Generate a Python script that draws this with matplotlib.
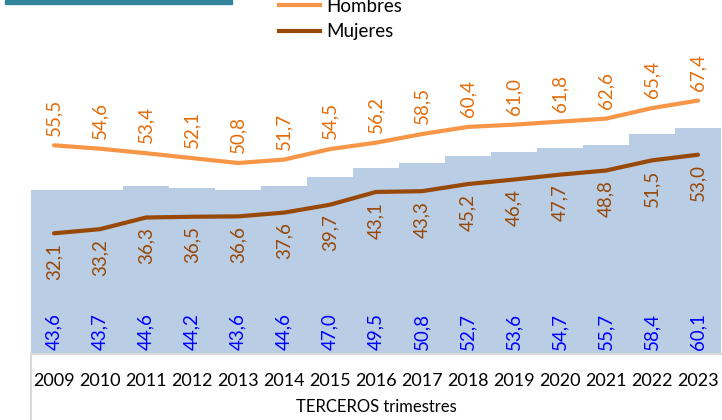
import matplotlib
matplotlib.use("Agg")
import matplotlib.pyplot as plt
from matplotlib.lines import Line2D
from matplotlib.patches import Rectangle

plt.rcParams['font.family'] = ['Lato', 'DejaVu Sans']

years = ['2009', '2010', '2011', '2012', '2013', '2014', '2015', '2016',
         '2017', '2018', '2019', '2020', '2021', '2022', '2023']
total = [43.6, 43.7, 44.6, 44.2, 43.6, 44.6, 47.0, 49.5,
         50.8, 52.7, 53.6, 54.7, 55.7, 58.4, 60.1]
hombres = [55.5, 54.6, 53.4, 52.1, 50.8, 51.7, 54.5, 56.2,
           58.5, 60.4, 61.0, 61.8, 62.6, 65.4, 67.4]
mujeres = [32.1, 33.2, 36.3, 36.5, 36.6, 37.6, 39.7, 43.1,
           43.3, 45.2, 46.4, 47.7, 48.8, 51.5, 53.0]

def fmt(v):
    return f"{v:.1f}".replace('.', ',')

fig = plt.figure(figsize=(7.22, 4.2), dpi=100)
ax = fig.add_axes([31 / 722, 66 / 420, 690 / 722, 338.4 / 420])

x = list(range(len(years)))
ax.bar(x, total, width=1.0, color='#b9cde5', zorder=1)
ax.plot(x, hombres, color='#f79646', lw=3, solid_capstyle='round', zorder=3)
ax.plot(x, mujeres, color='#984807', lw=3, solid_capstyle='round', zorder=3)

for i in x:
    ax.annotate(fmt(hombres[i]), (i, hombres[i]), xytext=(0, 7), textcoords='offset points',
                rotation=90, ha='center', va='bottom', color='#e46c0a', fontsize=13.5)
    ax.annotate(fmt(mujeres[i]), (i, mujeres[i]), xytext=(0, -7), textcoords='offset points',
                rotation=90, ha='center', va='top', color='#984807', fontsize=13.5)
    ax.annotate(fmt(total[i]), (i, 0), xytext=(0, 3), textcoords='offset points',
                rotation=90, ha='center', va='bottom', color='#0000ff', fontsize=13.5)

ax.set_xlim(-0.5, len(years) - 0.5)
ax.set_ylim(0, 90)
ax.set_yticks([])
ax.set_xticks(x)
ax.set_xticklabels(years, fontsize=13)
ax.tick_params(axis='x', length=0, pad=14)
ax.set_xlabel('TERCEROS trimestres', fontsize=12, labelpad=7)
for s in ['top', 'right', 'left']:
    ax.spines[s].set_visible(False)
ax.spines['bottom'].set_color('#d9d9d9')
ax.spines['bottom'].set_linewidth(1.5)

# frame line at the left below the plot
fig.add_artist(Line2D([31 / 722, 31 / 722], [0, 66 / 420], color='#d9d9d9', lw=1.5))
# title band at the top left
fig.add_artist(Rectangle((5 / 722, 416 / 420), 227 / 722, 4 / 420, color='#31849b'))

handles = [Line2D([0], [0], color='#f79646', lw=3),
           Line2D([0], [0], color='#984807', lw=3)]
fig.legend(handles, ['Hombres', 'Mujeres'], loc='upper left',
           bbox_to_anchor=(262 / 722, 1.045), frameon=False, fontsize=13.5,
           handlelength=2.2, labelspacing=0.45, handletextpad=0.3)

fig.savefig('out.png', dpi=100)
